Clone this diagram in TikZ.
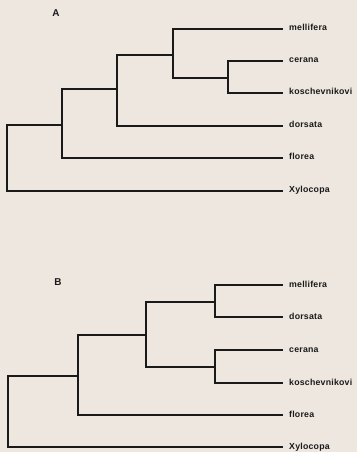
\documentclass[tikz,border=0pt]{standalone}
\usepackage{fontspec}
\setmainfont{Liberation Sans}
\newfontfamily\lblfont[LetterSpace=2.5]{Liberation Sans}
\definecolor{paper}{HTML}{EDE7DF}
\definecolor{ink}{HTML}{1A1A1A}
\begin{document}
\begin{tikzpicture}[x=1bp,y=-1bp,
  branch/.style={draw=ink,line width=1.2bp,line cap=rect},
  leaf/.style={anchor=west,inner sep=0pt,text height=5.5bp,text depth=1.5bp,
    font=\lblfont\bfseries\fontsize{8.8}{10}\selectfont,text=ink},
  panel/.style={font=\bfseries\fontsize{10}{12}\selectfont,text=ink,inner sep=0pt}]
\fill[paper] (0,0) rectangle (357,452);
\useasboundingbox (0,0) rectangle (357,452);
% ---- Panel A ----
\node[panel] (labA) at (56,13) {A};
\node[leaf] (aMel) at (289,29) {mellifera};
\node[leaf] (aCer) at (289,61) {cerana};
\node[leaf] (aKos) at (289,93) {koschevnikovi};
\node[leaf] (aDor) at (289,126) {dorsata};
\node[leaf] (aFlo) at (289,158) {florea};
\node[leaf] (aXyl) at (289,191) {Xylocopa};
\coordinate (aR) at (7,125);
\coordinate (a4) at (62,125);
\coordinate (a3) at (117,89);
\coordinate (a2) at (173,55);
\coordinate (a1) at (228,78);
\draw[branch] (aR) |- ([xshift=-7bp]aXyl.west);
\draw[branch] (aR) |- (a4);
\draw[branch] (a4) |- (a3);
\draw[branch] (a4) |- ([xshift=-7bp]aFlo.west);
\draw[branch] (a3) |- (a2);
\draw[branch] (a3) |- ([xshift=-7bp]aDor.west);
\draw[branch] (a2) |- ([xshift=-7bp]aMel.west);
\draw[branch] (a2) |- (a1);
\draw[branch] (a1) |- ([xshift=-7bp]aCer.west);
\draw[branch] (a1) |- ([xshift=-7bp]aKos.west);
% ---- Panel B ----
\node[panel] (labB) at (58,282) {B};
\node[leaf] (bMel) at (289,285) {mellifera};
\node[leaf] (bDor) at (289,317) {dorsata};
\node[leaf] (bCer) at (289,350) {cerana};
\node[leaf] (bKos) at (289,383) {koschevnikovi};
\node[leaf] (bFlo) at (289,415) {florea};
\node[leaf] (bXyl) at (289,447) {Xylocopa};
\coordinate (bR) at (8,376);
\coordinate (b4) at (78,376);
\coordinate (b3) at (146,335);
\coordinate (bM) at (215,302);
\coordinate (bC) at (215,367);
\draw[branch] (bR) |- ([xshift=-7bp]bXyl.west);
\draw[branch] (bR) |- (b4);
\draw[branch] (b4) |- (b3);
\draw[branch] (b4) |- ([xshift=-7bp]bFlo.west);
\draw[branch] (b3) |- (bM);
\draw[branch] (b3) |- (bC);
\draw[branch] (bM) |- ([xshift=-7bp]bMel.west);
\draw[branch] (bM) |- ([xshift=-7bp]bDor.west);
\draw[branch] (bC) |- ([xshift=-7bp]bCer.west);
\draw[branch] (bC) |- ([xshift=-7bp]bKos.west);
\end{tikzpicture}
\end{document}
